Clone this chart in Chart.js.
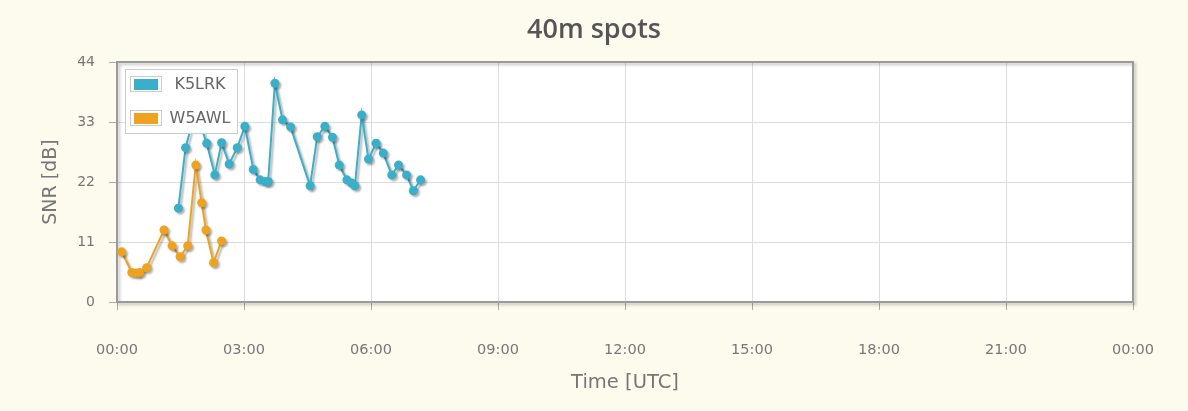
<!DOCTYPE html>
<html>
<head>
<meta charset="utf-8">
<script src="https://cdn.jsdelivr.net/npm/chart.js@4.4.0/dist/chart.umd.min.js"></script>
<style>
  html, body { margin: 0; padding: 0; background: #fcfbee; }
</style>
</head>
<body>
<canvas id="spotsChart" width="1188" height="411"></canvas>
<script>
// hours after 00:00 UTC, SNR in dB
const k5lrkTime = [1.45, 1.62, 1.85, 2.12, 2.31, 2.47, 2.65, 2.84, 3.02, 3.22, 3.38, 3.50, 3.57, 3.73, 3.91, 4.10,
  4.56, 4.73, 4.91, 5.09, 5.25, 5.43, 5.54, 5.62, 5.78, 5.94, 6.12, 6.29, 6.49, 6.65, 6.84, 7.00, 7.17];
const k5lrkSnr = [17.2, 28.3, 35, 29.1, 23.3, 29.2, 25.3, 28.3, 32.2, 24.3, 22.4, 22.1, 22.1, 40.1, 33.4, 32.1,
  21.3, 30.3, 32.2, 30.2, 25.1, 22.4, 21.8, 21.3, 34.3, 26.2, 29.1, 27.3, 23.3, 25.1, 23.3, 20.4, 22.4];
const w5awlTime = [0.11, 0.35, 0.46, 0.54, 0.70, 1.11, 1.30, 1.49, 1.67, 1.86, 2.00, 2.10, 2.28, 2.47];
const w5awlSnr = [9.2, 5.4, 5.3, 5.4, 6.3, 13.2, 10.3, 8.3, 10.3, 25.1, 18.2, 13.2, 7.2, 11.2];
const xTicks = [0, 3, 6, 9, 12, 15, 18, 21, 24];
const yTicks = [0, 11, 22, 33, 44];
const chartTitle = "40m spots";

const blue = "#3aafc9";
const orange = "#eea21f";

function toPoints(times, values) {
  return times.map((t, i) => ({ x: t, y: values[i] }));
}

const backdrop = {
  id: "backdrop",
  beforeDraw(chart) {
    const { ctx, chartArea: a } = chart;
    ctx.save();
    ctx.fillStyle = "#fcfbee";
    ctx.fillRect(0, 0, chart.width, chart.height);
    ctx.fillStyle = "#ffffff";
    ctx.fillRect(a.left, a.top, a.right - a.left, a.bottom - a.top);
    // title centred on the whole canvas
    ctx.fillStyle = "#555555";
    ctx.font = "600 27px 'Open Sans'";
    ctx.textAlign = "center";
    ctx.textBaseline = "middle";
    ctx.fillText(chartTitle, chart.width / 2, 30);
    ctx.restore();
  },
  beforeDatasetsDraw(chart) {
    const { ctx, chartArea: a } = chart;
    ctx.save();
    ctx.shadowColor = "rgba(0,0,0,0.25)";
    ctx.shadowOffsetX = 2;
    ctx.shadowOffsetY = 2;
    ctx.shadowBlur = 3;
    ctx.strokeStyle = "#9a9a9a";
    ctx.lineWidth = 2;
    ctx.strokeRect(a.left, a.top, a.right - a.left, a.bottom - a.top);
    ctx.restore();
  },
  beforeDatasetDraw(chart) {
    const ctx = chart.ctx;
    ctx.save();
    ctx.shadowColor = "rgba(0,0,0,0.3)";
    ctx.shadowOffsetX = 2;
    ctx.shadowOffsetY = 2;
    ctx.shadowBlur = 2;
  },
  afterDatasetDraw(chart) {
    chart.ctx.restore();
  },
  afterDraw(chart) {
    // legend box in the top-left corner of the plot
    const ctx = chart.ctx;
    const a = chart.chartArea;
    const x = a.left + 8, y = a.top + 7;
    ctx.save();
    ctx.fillStyle = "#ffffff";
    ctx.fillRect(x, y, 112, 64);
    ctx.strokeStyle = "#cccccc";
    ctx.lineWidth = 1;
    ctx.strokeRect(x + 0.5, y + 0.5, 112, 64);
    ctx.font = "16px 'DejaVu Sans'";
    ctx.textBaseline = "middle";
    ctx.textAlign = "center";
    chart.data.datasets.forEach((ds, i) => {
      const rowY = y + 15 + i * 34;
      ctx.strokeStyle = "#cccccc";
      ctx.strokeRect(x + 5.5, rowY - 7.5, 31, 15);
      ctx.fillStyle = ds.borderColor;
      ctx.fillRect(x + 9, rowY - 5, 24, 11);
      ctx.fillStyle = "#666666";
      ctx.fillText(ds.label, x + 75, rowY + 1);
    });
    ctx.restore();
  }
};

new Chart(document.getElementById("spotsChart"), {
  type: "line",
  data: {
    datasets: [
      {
        label: "K5LRK",
        data: toPoints(k5lrkTime, k5lrkSnr),
        borderColor: blue,
        backgroundColor: blue,
        pointBackgroundColor: blue,
        borderWidth: 2,
        pointRadius: 4.5,
        pointBorderWidth: 0,
        tension: 0,
      },
      {
        label: "W5AWL",
        data: toPoints(w5awlTime, w5awlSnr),
        borderColor: orange,
        backgroundColor: orange,
        pointBackgroundColor: orange,
        borderWidth: 2,
        pointRadius: 4.5,
        pointBorderWidth: 0,
        tension: 0,
      },
    ],
  },
  options: {
    responsive: false,
    animation: false,
    devicePixelRatio: 1,
    layout: { padding: { left: 36, right: 55, top: 62, bottom: 12 } },
    plugins: {
      legend: { display: false },
      tooltip: { enabled: false },
      title: { display: false },
    },
    scales: {
      x: {
        type: "linear",
        min: 0,
        max: 24,
        afterBuildTicks: (scale) => {
          scale.ticks = xTicks.map((v) => ({ value: v }));
        },
        afterFit: (scale) => { scale.height = 97; },
        ticks: {
          padding: 32,
          color: "#777777",
          font: { family: "'DejaVu Sans'", size: 14.5 },
          callback: (v) => String(v % 24).padStart(2, "0") + ":00",
        },
        grid: { color: "#dddddd", tickColor: "#aaaaaa", tickLength: 8 },
        border: { display: false },
        title: {
          display: true,
          text: "Time [UTC]",
          color: "#777777",
          font: { family: "'DejaVu Sans'", size: 19.5 },
        },
      },
      y: {
        min: 0,
        max: 44,
        afterBuildTicks: (scale) => {
          scale.ticks = yTicks.map((v) => ({ value: v }));
        },
        afterFit: (scale) => { scale.width = 81; },
        ticks: {
          padding: 14,
          color: "#777777",
          font: { family: "'DejaVu Sans'", size: 14 },
        },
        grid: { color: "#dddddd", tickColor: "#aaaaaa", tickLength: 8 },
        border: { display: false },
        title: {
          display: true,
          text: "SNR [dB]",
          color: "#777777",
          font: { family: "'DejaVu Sans'", size: 19 },
        },
      },
    },
  },
  plugins: [backdrop],
});
</script>
</body>
</html>
